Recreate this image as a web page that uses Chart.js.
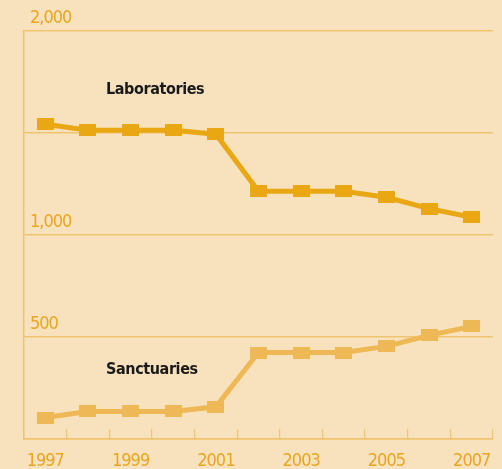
<!DOCTYPE html>
<html>
<head>
<meta charset="utf-8">
<script src="https://cdn.jsdelivr.net/npm/chart.js@4/dist/chart.umd.min.js"></script>
<style>
  html, body { margin: 0; padding: 0; background: #f8e2bd; }
  #c { display: block; }
</style>
</head>
<body>
<canvas id="c" width="502" height="469"></canvas>
<script>
const years = ['1997','1998','1999','2000','2001','2002','2003','2004','2005','2006','2007'];
const laboratories = [1543, 1514, 1514, 1514, 1494, 1214, 1214, 1214, 1185, 1129, 1087];
const sanctuaries = [105, 135, 135, 135, 158, 424, 424, 424, 454, 508, 552];
const yLabelledTicks = [500, 1000, 2000];
const seriesNames = ['Laboratories', 'Sanctuaries'];

const BG = '#f8e2bd';
const LAB = '#e8a713';
const SAN = '#edb855';
const TXT = '#e9a620';
const GRID = '#efc470';
const FONT = '"Liberation Sans Narrow", "DejaVu Sans Condensed", "Open Sans", sans-serif';

function rectMarker(color) {
  const c = document.createElement('canvas');
  c.width = 17; c.height = 12;
  const g = c.getContext('2d');
  g.fillStyle = color;
  g.fillRect(0, 0, 17, 12);
  return c;
}

const bgPlugin = {
  id: 'bg',
  beforeDraw(chart) {
    const ctx = chart.ctx;
    ctx.fillStyle = BG;
    ctx.fillRect(0, 0, chart.width, chart.height);
    ctx.letterSpacing = '-1px';
  }
};

const seriesLabels = {
  id: 'seriesLabels',
  afterDatasetsDraw(chart) {
    const ctx = chart.ctx;
    ctx.save();
    ctx.fillStyle = '#1a1a1a';
    ctx.font = 'bold 16px ' + FONT;
    ctx.letterSpacing = '-0.4px';
    ctx.textBaseline = 'alphabetic';
    ctx.textAlign = 'left';
    ctx.fillText(seriesNames[0], 106, 94);
    ctx.fillText(seriesNames[1], 106, 374);
    ctx.restore();
  }
};

new Chart(document.getElementById('c'), {
  type: 'line',
  data: {
    labels: years,
    datasets: [
      {
        label: seriesNames[0],
        data: laboratories,
        borderColor: LAB,
        backgroundColor: LAB,
        borderWidth: 5,
        pointStyle: rectMarker(LAB),
        tension: 0
      },
      {
        label: seriesNames[1],
        data: sanctuaries,
        borderColor: SAN,
        backgroundColor: SAN,
        borderWidth: 5,
        pointStyle: rectMarker(SAN),
        tension: 0
      }
    ]
  },
  options: {
    responsive: false,
    devicePixelRatio: 1,
    animation: false,
    layout: { padding: { top: 31, right: 8, bottom: 0, left: 0 } },
    plugins: {
      legend: { display: false },
      tooltip: { enabled: false }
    },
    scales: {
      x: {
        type: 'category',
        offset: true,
        afterFit(scale) { scale.height = 30; scale.paddingLeft = 0; scale.paddingRight = 0; },
        border: { display: true, color: GRID, width: 1.5 },
        grid: {
          display: true,
          offset: true,
          drawOnChartArea: false,
          drawTicks: true,
          tickLength: -10,
          tickColor: GRID,
          color: GRID,
          lineWidth: 1.2
        },
        ticks: {
          autoSkip: false,
          maxRotation: 0,
          color: TXT,
          padding: 22,
          font: { family: FONT, size: 18 },
          callback(v, i) { return i % 2 === 0 ? years[i] : ''; }
        }
      },
      y: {
        min: 0,
        max: 2000,
        afterFit(scale) { scale.width = 24; scale.paddingTop = 0; scale.paddingBottom = 0; },
        border: { display: true, color: GRID, width: 1.5 },
        grid: {
          color: GRID,
          lineWidth: 1.5,
          drawTicks: false
        },
        ticks: {
          stepSize: 500,
          mirror: true,
          padding: 6,
          labelOffset: -13,
          color: TXT,
          font: { family: FONT, size: 18 },
          callback(v) {
            return yLabelledTicks.includes(v) ? v.toLocaleString('en-US') : '';
          }
        }
      }
    }
  },
  plugins: [bgPlugin, seriesLabels]
});
</script>
</body>
</html>
